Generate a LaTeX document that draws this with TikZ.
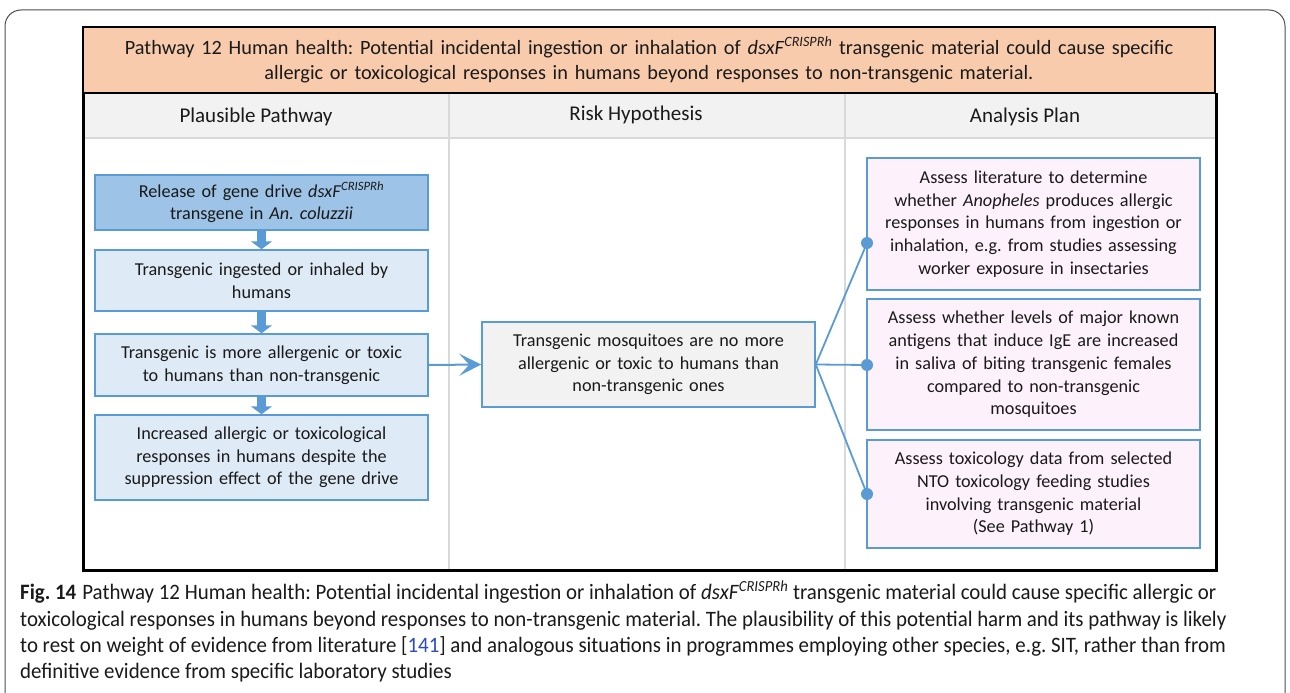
\documentclass[tikz,border=0pt]{standalone}
\usepackage{fontspec}
\setmainfont{Carlito}
\newfontfamily\capfont{Carlito}[FakeStretch=0.95]
\usetikzlibrary{arrows.meta}
\frenchspacing

\definecolor{framegray}{HTML}{4D4D4D}
\definecolor{titlefill}{HTML}{F8CBAD}
\definecolor{headfill}{HTML}{F2F2F2}
\definecolor{sepgray}{HTML}{D9D9D9}
\definecolor{boxline}{HTML}{5B9BD5}
\definecolor{darkfill}{HTML}{9DC3E6}
\definecolor{lightfill}{HTML}{DEEBF7}
\definecolor{planfill}{HTML}{FDF2FB}
\definecolor{reflink}{HTML}{2A4BC8}
\definecolor{txt}{HTML}{1A1A1A}

\tikzset{
  boxtext/.style={font=\fontsize{18.2}{22.7}\selectfont, text=txt, align=center},
  pathbox/.style={boxtext, draw=boxline, line width=1.5pt, fill=lightfill,
    minimum width=333pt, text width=326pt, inner sep=0pt},
  startbox/.style={pathbox, fill=darkfill},
  hypbox/.style={pathbox, fill=headfill},
  planbox/.style={pathbox, fill=planfill},
  headtext/.style={font=\fontsize{21}{24}\selectfont, text=txt},
  blockarrow/.style={draw=boxline, line width=9pt, -{Triangle[length=8pt,width=21pt]}},
  conn/.style={draw=boxline, line width=1.8pt},
  dot/.style={circle, fill=boxline, inner sep=0pt, minimum size=12pt},
  capline/.style={anchor=base west, inner sep=0pt, text=txt,
    font=\capfont\fontsize{22}{26}\selectfont},
}

\begin{document}
\begin{tikzpicture}[x=1pt,y=-1pt]
\useasboundingbox (0,0) rectangle (1290,693);
\fill[white] (0,0) rectangle (1290,693);

% rounded outer frame of the figure panel
\draw[framegray, line width=1pt, rounded corners=16pt] (5,700) -- (5,10) -- (1285,10) -- (1285,700);

% title banner
\node[draw=black, line width=2.5pt, fill=titlefill, minimum width=1132pt, minimum height=66pt,
  text width=1125pt, align=center, inner sep=0pt, font=\fontsize{20.3}{25}\selectfont, text=txt]
  (title) at (649,60)
  {Pathway 12 Human health: Potential incidental ingestion or inhalation of \textit{dsxF}\textsuperscript{\itshape CRISPRh} transgenic material could cause specific\\
   allergic or toxicological responses in humans beyond responses to non-transgenic material.};

% table body
\fill[headfill] (83,94) rectangle (1216,138);
\draw[sepgray, line width=2pt] (83,138) -- (1216,138);
\draw[sepgray, line width=2pt] (449,94) -- (449,569);
\draw[sepgray, line width=2pt] (845,94) -- (845,569);
\draw[black, line width=3pt] (83,93) -- (83,570) -- (1216,570) -- (1216,93);

% column headings
\node[headtext] (h1) at (256,117) {Plausible Pathway};
\node[headtext] (h2) at (636,115) {Risk Hypothesis};
\node[headtext] (h3) at (1025,117) {Analysis Plan};

% plausible pathway chain
\node[startbox, minimum height=55pt] (b1) at (261.5,202.5)
  {Release of gene drive \textit{dsxF}\textsuperscript{\itshape CRISPRh}\\ transgene in \textit{An. coluzzii}};
\node[pathbox, minimum height=61pt] (b2) at (261.5,280.5)
  {Transgenic ingested or inhaled by\\ humans};
\node[pathbox, minimum height=62pt] (b3) at (261.5,365)
  {Transgenic is more allergenic or toxic\\ to humans than non-transgenic};
\node[pathbox, minimum height=85pt] (b4) at (261.5,457.5)
  {Increased allergic or toxicological\\ responses in humans despite the\\ suppression effect of the gene drive};

\draw[blockarrow] (b1.south) -- (b2.north);
\draw[blockarrow] (b2.south) -- (b3.north);
\draw[blockarrow] (b3.south) -- (b4.north);

% risk hypothesis
\node[hypbox, minimum height=85pt] (hyp) at (648.5,364.5)
  {Transgenic mosquitoes are no more\\ allergenic or toxic to humans than\\ non-transgenic ones};

\draw[conn, line width=2pt, -{Stealth[length=22pt,width=22pt,inset=10pt]}] (b3.east) -- (hyp.west);

% analysis plan
\node[planbox, minimum height=132pt] (r1) at (1033.5,224)
  {Assess literature to determine\\ whether \textit{Anopheles} produces allergic\\ responses in humans from ingestion or\\ inhalation, e.g. from studies assessing\\ worker exposure in insectaries};
\node[planbox, minimum height=131pt] (r2) at (1033.5,364.5)
  {Assess whether levels of major known\\ antigens that induce IgE are increased\\ in saliva of biting transgenic females\\ compared to non-transgenic\\ mosquitoes};
\node[planbox, minimum height=108pt] (r3) at (1033.5,494)
  {Assess toxicology data from selected\\ NTO toxicology feeding studies\\ involving transgenic material\\ (See Pathway 1)};

\node[dot] (d1) at (867,243) {};
\node[dot] (d2) at (867,365) {};
\node[dot] (d3) at (867,494) {};
\draw[conn] (hyp.east) -- (d1.center);
\draw[conn] (hyp.east) -- (d2.center);
\draw[conn] (hyp.east) -- (d3.center);

% figure caption
\node[capline] (c1) at (20,599)
  {\textbf{Fig. 14}\hspace{6pt}Pathway 12 Human health: Potential incidental ingestion or inhalation of \textit{dsxF}\textsuperscript{\itshape CRISPRh} transgenic material could cause specific allergic or};
\node[capline] (c2) at (20,626)
  {toxicological responses in humans beyond responses to non-transgenic material. The plausibility of this potential harm and its pathway is likely};
\node[capline] (c3) at (20,652)
  {to rest on weight of evidence from literature [{\color{reflink}141}] and analogous situations in programmes employing other species, e.g. SIT, rather than from};
\node[capline] (c4) at (20,678)
  {definitive evidence from specific laboratory studies};
\end{tikzpicture}
\end{document}
